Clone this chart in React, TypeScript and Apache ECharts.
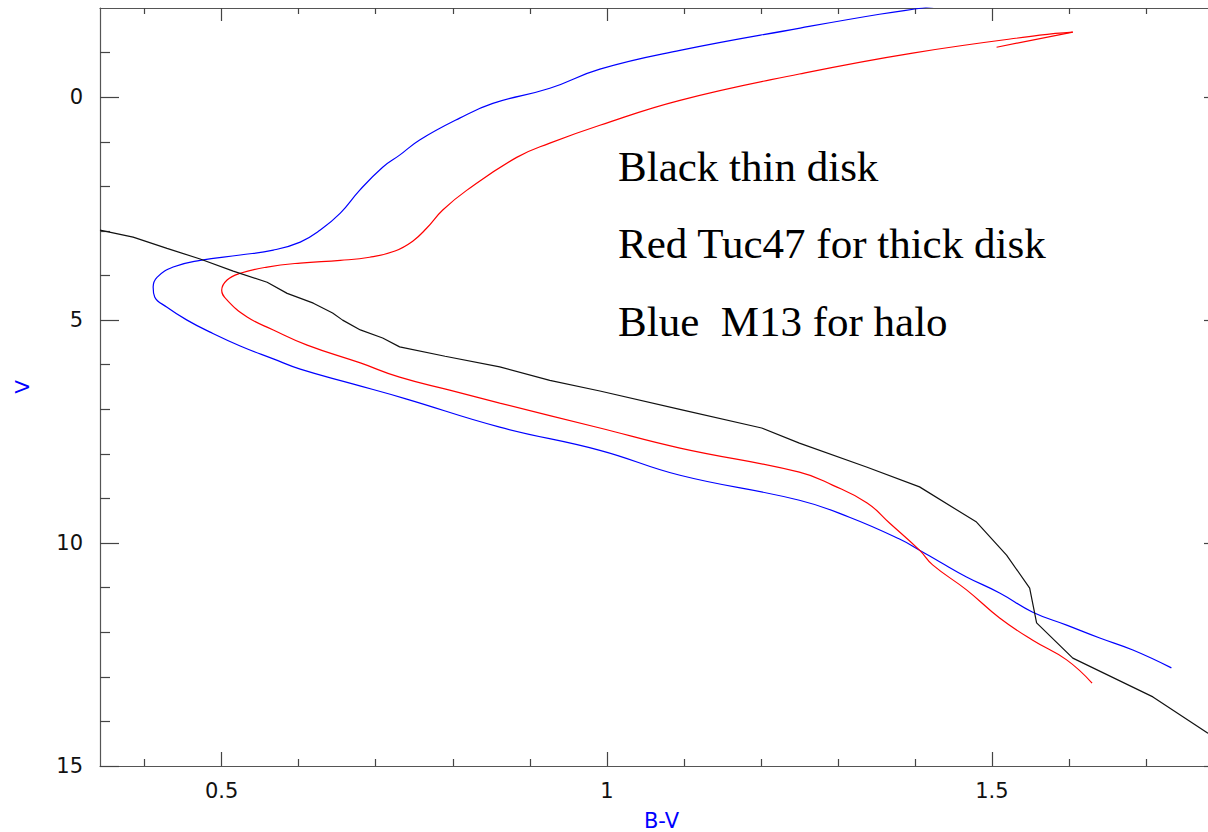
import React, { useEffect, useRef } from "react";
import * as echarts from "echarts";

// B-V (x) , V (y) pairs, ordered along each curve
const blueM13: [number, number][] = [
  [1.47, -2.15], [1.41, -2.0], [1.354, -1.86], [1.251, -1.55], [1.095, -1.05],
  [0.991, -0.63], [0.926, -0.2], [0.852, 0.14], [0.809, 0.47], [0.757, 0.96],
  [0.731, 1.3], [0.709, 1.57], [0.679, 2.09], [0.654, 2.6], [0.628, 2.98],
  [0.602, 3.25], [0.567, 3.43], [0.524, 3.54], [0.472, 3.66], [0.437, 3.81],
  [0.416, 4.04], [0.411, 4.26], [0.413, 4.48], [0.429, 4.71], [0.455, 5.0],
  [0.485, 5.27], [0.524, 5.58], [0.567, 5.87], [0.602, 6.1], [0.67, 6.43],
  [0.738, 6.76], [0.861, 7.4], [0.991, 7.92], [1.095, 8.48], [1.25, 9.04],
  [1.315, 9.42], [1.38, 9.91], [1.406, 10.16], [1.432, 10.42], [1.467, 10.76],
  [1.51, 11.12], [1.553, 11.55], [1.597, 11.84], [1.64, 12.13], [1.683, 12.4],
  [1.733, 12.8],
];

const redTuc47Hook: [number, number][] = [
  [1.506, -1.12], [1.605, -1.46],
];

const redTuc47: [number, number][] = [
  [1.605, -1.46], [1.562, -1.39], [1.397, -0.99], [1.25, -0.52],
  [1.095, 0.07], [0.991, 0.63], [0.926, 1.03], [0.883, 1.35], [0.818, 2.09],
  [0.787, 2.53], [0.766, 2.94], [0.748, 3.23], [0.725, 3.45], [0.692, 3.59],
  [0.654, 3.66], [0.602, 3.72], [0.559, 3.81], [0.524, 3.95], [0.507, 4.1],
  [0.5, 4.33], [0.507, 4.55], [0.533, 4.93], [0.567, 5.22], [0.611, 5.56],
  [0.68, 5.96], [0.731, 6.28], [0.796, 6.57], [0.861, 6.86], [0.991, 7.42],
  [1.095, 7.87], [1.25, 8.41], [1.293, 8.7], [1.338, 9.1], [1.367, 9.55],
  [1.406, 10.16], [1.423, 10.49], [1.467, 11.05], [1.51, 11.68], [1.553, 12.18],
  [1.597, 12.62], [1.63, 13.14],
];

const blackThinDisk: [number, number][] = [
  [0.342, 2.98], [0.385, 3.14], [0.429, 3.39], [0.472, 3.63], [0.515, 3.9],
  [0.559, 4.15], [0.585, 4.4], [0.619, 4.62], [0.644, 4.84], [0.657, 5.0],
  [0.68, 5.22], [0.709, 5.4], [0.731, 5.6], [0.79, 5.81], [0.861, 6.05],
  [0.926, 6.35], [0.991, 6.59], [1.099, 7.02], [1.201, 7.42], [1.25, 7.76],
  [1.338, 8.3], [1.406, 8.74], [1.48, 9.53], [1.519, 10.27], [1.549, 11.01],
  [1.558, 11.79], [1.605, 12.58], [1.709, 13.45], [1.78, 14.26], [1.8, 14.43],
];

const xMajorTicks = [0.5, 1, 1.5];
const xMinorTicks = [0.4, 0.6, 0.7, 0.8, 0.9, 1.1, 1.2, 1.3, 1.4, 1.6, 1.7];
const yMajorTicks = [0, 5, 10, 15];
const yMinorTicks = [-1, 1, 2, 3, 4, 6, 7, 8, 9, 11, 12, 13, 14];

const annotations = ["Black thin disk", "Red Tuc47 for thick disk", "Blue  M13 for halo"];
const annotationY = [166, 243, 321];

const X_MIN = 0.342;
const X_MAX = 1.8;
const Y_MIN = -2;
const Y_MAX = 15;

const TICK_COLOR = "#444";
const AXIS_COLOR = "#555";
const LABEL_FONT = { fontFamily: "DejaVu Sans", fontSize: 21, color: "#111" };

function makeAxis(
  position: string,
  ticks: number[],
  len: number,
  showLine: boolean,
  labels: boolean,
  min: number,
  max: number,
  extra: Record<string, unknown> = {}
) {
  return {
    type: "value",
    position,
    min,
    max,
    axisLine: { show: showLine, onZero: false, lineStyle: { color: AXIS_COLOR, width: 1.2 } },
    axisTick: {
      show: true,
      inside: true,
      length: len,
      customValues: ticks,
      lineStyle: { color: TICK_COLOR, width: 1.2 },
    },
    axisLabel: labels
      ? { show: true, customValues: ticks, ...LABEL_FONT }
      : { show: false },
    splitLine: { show: false },
    ...extra,
  };
}

export default function App() {
  const ref = useRef<HTMLDivElement>(null);

  useEffect(() => {
    if (!ref.current) return;
    const chart = echarts.init(ref.current, undefined, { renderer: "svg" });

    const option = {
      animation: false,
      backgroundColor: "#ffffff",
      grid: {
        left: 100,
        top: 8,
        width: 1123,
        height: 758,
        containLabel: false,
        outerBoundsMode: "none",
      },
      xAxis: [
        makeAxis("bottom", xMajorTicks, 14, true, true, X_MIN, X_MAX, {
          name: "B-V",
          nameLocation: "middle",
          nameGap: 44,
          nameTextStyle: { color: "#0000ff", fontFamily: "DejaVu Sans", fontSize: 21 },
          axisLabel: { show: true, customValues: xMajorTicks, margin: 14, ...LABEL_FONT },
        }),
        makeAxis("bottom", xMinorTicks, 7, false, false, X_MIN, X_MAX),
        makeAxis("top", xMajorTicks, 13, true, false, X_MIN, X_MAX),
        makeAxis("top", xMinorTicks, 6, false, false, X_MIN, X_MAX),
      ],
      yAxis: [
        makeAxis("left", yMajorTicks, 19, true, true, Y_MIN, Y_MAX, {
          inverse: true,
          name: "V",
          nameLocation: "middle",
          nameGap: 68,
          nameRotate: 90,
          nameTextStyle: { color: "#0000ff", fontFamily: "DejaVu Sans", fontSize: 20 },
          axisLabel: {
            show: true,
            customValues: yMajorTicks,
            margin: 17,
            padding: [6, 0, 0, 0],
            ...LABEL_FONT,
          },
        }),
        makeAxis("left", yMinorTicks, 10, false, false, Y_MIN, Y_MAX, { inverse: true }),
        makeAxis("right", yMajorTicks, 19, true, false, Y_MIN, Y_MAX, { inverse: true }),
        makeAxis("right", yMinorTicks, 10, false, false, Y_MIN, Y_MAX, { inverse: true }),
      ],
      series: [
        {
          name: "Blue M13 for halo",
          type: "line",
          data: blueM13,
          symbol: "none",
          smooth: 0.45,
          clip: true,
          lineStyle: { color: "#0000ff", width: 1.2 },
        },
        {
          name: "Red Tuc47 hook",
          type: "line",
          data: redTuc47Hook,
          symbol: "none",
          clip: true,
          lineStyle: { color: "#ff0000", width: 1.2 },
        },
        {
          name: "Red Tuc47 for thick disk",
          type: "line",
          data: redTuc47,
          symbol: "none",
          smooth: 0.45,
          clip: true,
          lineStyle: { color: "#ff0000", width: 1.2 },
        },
        {
          name: "Black thin disk",
          type: "line",
          data: blackThinDisk,
          symbol: "none",
          clip: true,
          lineStyle: { color: "#111111", width: 1.2 },
        },
      ],
      graphic: annotations.map((t, i) => ({
        type: "text",
        x: 618,
        y: annotationY[i],
        style: {
          text: t,
          font: '43px "Liberation Serif"',
          fill: "#000",
          align: "left",
          verticalAlign: "middle",
          textAlign: "left",
          textVerticalAlign: "middle",
        },
      })),
    };

    chart.setOption(option as any);
    return () => chart.dispose();
  }, []);

  return (
    <div
      style={{
        position: "fixed",
        left: 0,
        top: 0,
        width: 1208,
        height: 832,
        overflow: "hidden",
        background: "#fff",
      }}
    >
      <div ref={ref} style={{ width: 1240, height: 832 }} />
    </div>
  );
}
